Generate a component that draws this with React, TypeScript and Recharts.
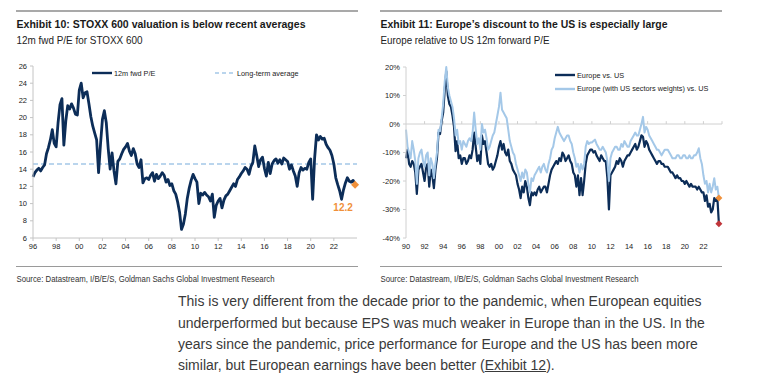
import React from "react"
import { LineChart, Line, XAxis, YAxis, ReferenceLine, ReferenceDot } from "recharts"

// 12m fwd P/E for STOXX 600, every two months from Jan 1996
const PE_START = 1996
const PE_VALUES = [
  13.1, 13.6, 13.9, 14.1, 13.8, 14.2,
  14.5, 15.8, 16.5, 17.4, 18.6, 17.0,
  16.6, 19.4, 21.5, 22.2, 16.8, 19.6,
  21.4, 21.0, 21.6, 21.1, 20.4, 20.3,
  23.2, 24.0, 22.3, 22.9, 23.0, 21.6,
  20.1, 19.0, 18.2, 17.4, 13.6, 16.9,
  19.8, 20.8, 19.4, 16.4, 14.0, 15.9,
  13.8, 12.3, 14.9, 15.2, 15.8, 16.3,
  16.6, 17.0, 16.1, 15.6, 16.4, 15.8,
  14.6, 14.2, 15.1, 12.4, 12.9, 13.0,
  12.8, 13.3, 13.6, 12.6, 13.4, 12.9,
  13.2, 13.6, 13.3, 12.5, 12.8, 12.1,
  12.3, 11.5, 11.1, 10.2, 9.0, 7.0,
  7.6, 8.8, 10.6, 11.8, 12.7, 13.4,
  12.9, 12.5, 10.0, 11.2, 11.0, 11.3,
  11.0, 10.8, 10.3, 11.1, 8.4, 9.8,
  10.3, 10.6, 9.5, 10.4, 10.9, 11.1,
  11.5, 11.9, 12.3, 12.0, 12.8, 13.1,
  13.5, 13.8, 14.2, 14.0, 13.4, 14.3,
  14.8, 16.7, 15.6, 14.3, 15.1, 15.4,
  14.1, 13.2, 14.8, 13.5, 14.6, 15.0,
  15.2, 14.7, 15.1, 14.6, 15.3, 15.1,
  14.9, 14.0, 14.5, 13.8, 13.2, 12.0,
  13.6, 14.2, 13.9, 14.1, 14.0, 14.8,
  15.2, 10.5, 15.2, 18.0, 17.4, 17.8,
  17.5, 17.6, 16.9, 16.5, 16.2, 15.6,
  14.6, 13.0, 12.2, 11.5, 10.5, 11.6,
  12.4, 13.0, 12.6, 12.5, 12.7, 12.2,
]
const PE_LONG_TERM_AVG = 14.6

// Europe relative to US 12m fwd P/E (%), every two months from Jan 1990
const REL_START = 1990
const EU_VS_US = [
  -12, -9, -14, -15, -13, -14,
  -17, -24.5, -16, -15, -14, -17,
  -20, -15, -14, -22, -16, -18,
  -22.5, -16, -12, -3, -3.5, 1,
  4, 12, 18.5, 10, 7, 6,
  3, -1, -9.5, -6, -12, -11,
  -14, -12, -12, -14, -13, -11,
  -12, -9, -3, -8, -13, -11,
  -14, -4, -7, -6, -10, -14,
  -15, -14, -16, -15, -13, -11,
  -8, -6, -9, -7, -10, -11,
  -9, -13, -14, -16, -17, -18,
  -21, -23, -26, -22, -24, -20,
  -22, -26, -28.5, -24, -25, -24,
  -25, -23, -22, -24, -23, -22,
  -22, -24, -21, -18, -16, -15,
  -14, -13, -14, -12, -13, -10,
  -11, -13, -12, -11, -13, -14,
  -17, -18, -22, -18, -25, -19,
  -25, -20, -14, -11, -10, -9,
  -9, -10, -9.5, -11, -12, -13,
  -11, -12, -13, -13, -19, -30,
  -18, -17, -16, -15, -13, -14,
  -12, -13, -15, -13, -12, -11,
  -11, -10, -9, -8, -7, -9,
  -8, -6, -4, -4.5, -8, -6,
  -7, -9, -10, -11, -12, -13,
  -14, -13, -13, -14, -14, -15,
  -15, -15, -16, -17, -17, -18,
  -19, -18, -19, -19, -20, -20,
  -21, -20, -21, -22, -21, -22,
  -22, -22, -23, -22, -23, -24,
  -24, -27, -25, -29, -28, -31,
  -30, -26, -27, -26, -35,
]
const EU_US_WEIGHTS = [
  -2, -8, -10, -12, -6, -9,
  -13, -21, -12, -10, -9, -13,
  -15, -11, -10, -18, -12, -14,
  -19, -14, -10, -2, -2.5, 2,
  7, 15, 20, 13, 10, 8,
  6, 2, -4, -2, -7, -6,
  -9, -6, -7, -8, -6, -5,
  -6, -3, 4, -2, -7, -5,
  -9, 0, -3, -2, -5, -9,
  -8, -6, -4, -3, 0, 3,
  6, 11, 5, 4, 3, 2,
  -2, -6, -8, -10, -11, -14,
  -16, -18, -20, -17, -19, -16,
  -17, -21, -24, -19, -20, -18,
  -17, -16, -15, -17, -15, -14,
  -16, -17, -14, -12, -9, -8,
  -5, -3, -1, -3, -4, -5,
  -6, -5, -4, -4, -6, -7,
  -10, -12, -15, -14, -17, -14,
  -16, -14, -8, -6, -7, -6.5,
  -6.5, -6, -5.5, -7, -8, -9,
  -9, -8, -9, -10, -13, -20,
  -12, -10, -9, -8, -8, -9,
  -9, -7, -8, -6, -7, -8,
  -8, -6, -5, -4, -3, -4,
  -4, -2, 0, 2.5, -3, -1,
  -2, -4, -5, -6, -7, -8,
  -9, -9, -10, -11, -10, -9,
  -9, -9, -10, -11, -12, -12,
  -12, -11, -11, -12, -12, -11,
  -11, -12, -12, -11, -12, -12,
  -11, -11, -10, -8.5, -12, -14,
  -18, -21, -20, -24, -21, -24,
  -22, -19, -23, -22, -26,
]

const STEP = 1 / 6
const PE_X_TICKS = [1996, 1998, 2000, 2002, 2004, 2006, 2008, 2010, 2012, 2014, 2016, 2018, 2020, 2022]
const PE_Y_TICKS = [6, 8, 10, 12, 14, 16, 18, 20, 22, 24, 26]
const REL_X_TICKS = [1990, 1992, 1994, 1996, 1998, 2000, 2002, 2004, 2006, 2008, 2010, 2012, 2014, 2016, 2018, 2020, 2022]
const REL_Y_TICKS = [-40, -30, -20, -10, 0, 10, 20]

const NAVY = "#0c2d58"
const LIGHT = "#a4c8e8"
const ORANGE = "#f0903a"
const RED = "#c0353a"
const SANS = '"Liberation Sans", Arial, sans-serif'

const peData = PE_VALUES.map((v, i) => ({ t: PE_START + i * STEP, pe: v }))
const relData = EU_VS_US.map((v, i) => ({ t: REL_START + i * STEP, eu: v, euw: EU_US_WEIGHTS[i] }))
const peLast = peData[peData.length - 1]
const relLast = relData[relData.length - 1]

const yy = (v: number) => String(v % 100).padStart(2, "0")
const tickStyle = { fontSize: 7.5, fill: "#222", fontFamily: SANS }

const diamond = (color: string, r: number) => (p: any) => (
  <polygon
    points={`${p.cx},${p.cy - r} ${p.cx + r},${p.cy} ${p.cx},${p.cy + r} ${p.cx - r},${p.cy}`}
    fill={color}
  />
)

// titles are squeezed to the narrow face of the original with textLength
function Header(props: { left: number; title: string; titleW: number; subtitle: string; subW: number }) {
  const { left, title, titleW, subtitle, subW } = props
  return (
    <svg style={{ position: "absolute", left, top: 0 }} width={345} height={290} fontFamily={SANS}>
      <rect x={0} y={10} width={342} height={2} fill="#a9a9a9" />
      <text x={0.5} y={28.3} fontSize={11.5} fontWeight={700} fill="#1a1a1a" textLength={titleW} lengthAdjust="spacingAndGlyphs">
        {title}
      </text>
      <text x={0.5} y={43.7} fontSize={11.5} fill="#222" textLength={subW} lengthAdjust="spacingAndGlyphs">
        {subtitle}
      </text>
      <rect x={0} y={266} width={342} height={1} fill="#9a9a9a" />
      <text x={0.5} y={281.7} fontSize={9.3} fill="#333" textLength={258} lengthAdjust="spacingAndGlyphs">
        Source: Datastream, I/B/E/S, Goldman Sachs Global Investment Research
      </text>
    </svg>
  )
}

function LegendItem({ x, y, color, dashed, label }: { x: number; y: number; color: string; dashed?: boolean; label: string }) {
  return (
    <>
      <svg style={{ position: "absolute", left: x, top: y - 2, width: 20, height: 4 }}>
        <line x1={0} y1={2} x2={20} y2={2} stroke={color} strokeWidth={dashed ? 1.6 : 2.4} strokeDasharray={dashed ? "4 3" : undefined} />
      </svg>
      <div style={{ position: "absolute", left: x + 22, top: y - 4.5, fontFamily: SANS, fontSize: 7.3, lineHeight: "9px", color: "#222", whiteSpace: "nowrap" }}>
        {label}
      </div>
    </>
  )
}

function PeChart() {
  return (
    <div style={{ position: "absolute", left: 0, top: 0 }}>
      <LineChart width={380} height={290} data={peData} margin={{ top: 66, right: 23, bottom: 32, left: 0 }}>
        <XAxis
          dataKey="t"
          type="number"
          domain={[1996, 2024]}
          ticks={PE_X_TICKS}
          interval={0}
          tickFormatter={yy}
          height={20}
          tick={tickStyle}
          tickSize={3}
          tickMargin={3}
          axisLine={{ stroke: "#c4c4c4" }}
          tickLine={{ stroke: "#c4c4c4" }}
        />
        <YAxis
          type="number"
          domain={[6, 26]}
          ticks={PE_Y_TICKS}
          interval={0}
          width={33}
          tick={tickStyle}
          tickSize={3}
          tickMargin={3}
          axisLine={{ stroke: "#c4c4c4" }}
          tickLine={{ stroke: "#c4c4c4" }}
        />
        <ReferenceLine y={PE_LONG_TERM_AVG} stroke={LIGHT} strokeWidth={1.6} strokeDasharray="5 3" />
        <Line type="linear" dataKey="pe" stroke={NAVY} strokeWidth={2.8} strokeLinejoin="round" dot={false} isAnimationActive={false} />
        <ReferenceDot x={peLast.t} y={peLast.pe} r={4} shape={diamond(ORANGE, 4)} />
        <ReferenceDot
          x={peLast.t}
          y={peLast.pe}
          r={0}
          shape={(p: any) => (
            <text x={p.cx - 12} y={p.cy + 26.5} textAnchor="middle" fontSize={10} fontWeight={600} fontFamily={SANS} fill={ORANGE}>
              {peLast.pe.toFixed(1)}
            </text>
          )}
        />
      </LineChart>
      <LegendItem x={92} y={73} color={NAVY} label="12m fwd P/E" />
      <LegendItem x={215} y={73} color={LIGHT} dashed label="Long-term average" />
    </div>
  )
}

function RelChart() {
  return (
    <div style={{ position: "absolute", left: 375, top: 0 }}>
      <LineChart width={386} height={290} data={relData} margin={{ top: 67, right: 39, bottom: 32, left: 0 }}>
        <XAxis
          dataKey="t"
          type="number"
          domain={[1990, 2024]}
          ticks={REL_X_TICKS}
          interval={0}
          tickFormatter={yy}
          height={20}
          tick={tickStyle}
          tickSize={3}
          tickMargin={3}
          axisLine={false}
          tickLine={false}
        />
        <YAxis
          type="number"
          domain={[-40, 20]}
          ticks={REL_Y_TICKS}
          interval={0}
          width={31}
          tick={tickStyle}
          tickFormatter={(v: number) => `${v}%`}
          tickSize={3}
          tickMargin={3}
          axisLine={{ stroke: "#d0d0d0" }}
          tickLine={{ stroke: "#d0d0d0" }}
        />
        <ReferenceLine y={0} stroke="#d0d0d0" strokeWidth={1} />
        {REL_X_TICKS.slice(1).concat([2024]).map((t) => (
          <ReferenceLine key={t} segment={[{ x: t, y: 0 }, { x: t, y: 1 }]} stroke="#d0d0d0" strokeWidth={1} />
        ))}
        <Line type="linear" dataKey="eu" stroke={NAVY} strokeWidth={2.2} strokeLinejoin="round" dot={false} isAnimationActive={false} />
        <Line type="linear" dataKey="euw" stroke={LIGHT} strokeWidth={2} strokeLinejoin="round" dot={false} isAnimationActive={false} />
        <ReferenceDot x={relLast.t} y={relLast.euw} r={4} shape={diamond(ORANGE, 3.5)} />
        <ReferenceDot x={relLast.t} y={relLast.eu} r={4} shape={diamond(RED, 3.5)} />
      </LineChart>
      <LegendItem x={180} y={75} color={NAVY} label="Europe vs. US" />
      <LegendItem x={180} y={88.5} color={LIGHT} label="Europe (with US sectors weights) vs. US" />
    </div>
  )
}

const PARAGRAPH = [
  "This is very different from the decade prior to the pandemic, when European equities",
  "underperformed but because EPS was much weaker in Europe than in the US. In the",
  "years since the pandemic, price performance for Europe and the US has been more",
]

export default function App() {
  return (
    <div style={{ position: "absolute", left: 0, top: 0, width: 761, height: 386, background: "#fff", overflow: "hidden" }}>
      <Header left={16} title="Exhibit 10: STOXX 600 valuation is below recent averages" titleW={289} subtitle="12m fwd P/E for STOXX 600" subW={126} />
      <Header left={380} title="Exhibit 11: Europe’s discount to the US is especially large" titleW={287} subtitle="Europe relative to US 12m forward P/E" subW={169} />
      <PeChart />
      <RelChart />
      <div style={{ position: "absolute", left: 178, top: 291.3, fontFamily: SANS, fontSize: 14, lineHeight: "21.2px", color: "#3a3a3a", whiteSpace: "nowrap" }}>
        {PARAGRAPH.map((l) => (
          <div key={l}>{l}</div>
        ))}
        <div>
          similar, but European earnings have been better (<span style={{ textDecoration: "underline" }}>Exhibit 12</span>).
        </div>
      </div>
    </div>
  )
}
